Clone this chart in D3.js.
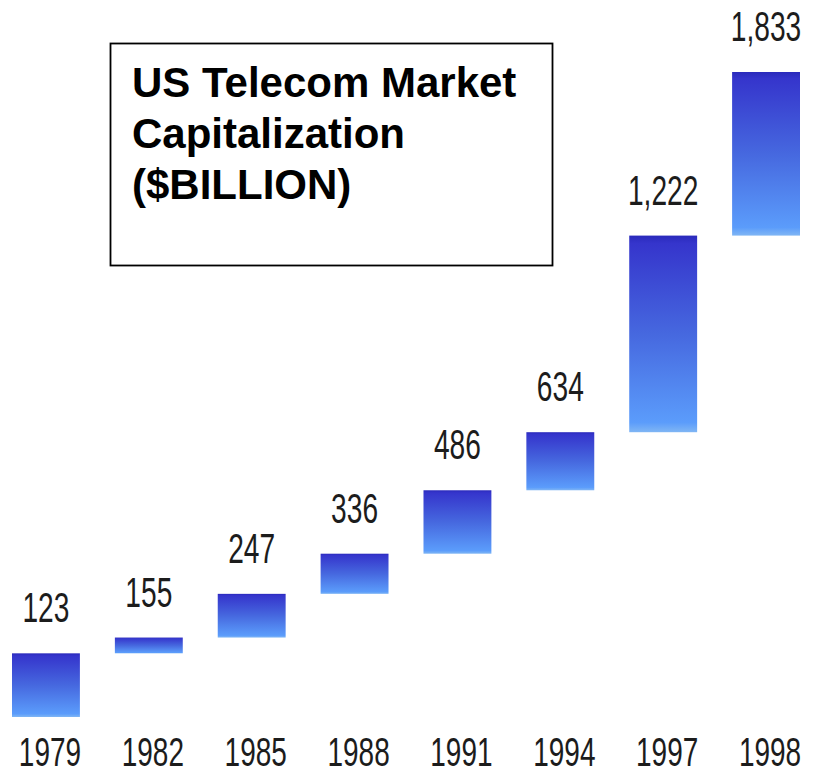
<!DOCTYPE html>
<html>
<head>
<meta charset="utf-8">
<script src="https://cdn.jsdelivr.net/npm/d3@7"></script>
<style>
  html, body { margin: 0; padding: 0; background: #fff; }
  svg { display: block; }
</style>
</head>
<body>
<svg id="chart" width="820" height="774"></svg>
<script>
// Market capitalization of US telecom, $ billion
const years = ["1979", "1982", "1985", "1988", "1991", "1994", "1997", "1998"];
const values = [123, 155, 247, 336, 486, 634, 1222, 1833];
const valueLabels = ["123", "155", "247", "336", "486", "634", "1,222", "1,833"];
const titleLines = ["US Telecom Market", "Capitalization", "($BILLION)"];

const width = 820, height = 774;
const svg = d3.select("#chart");

// Each bar climbs from the previous year's value to its own value
const bars = values.map((v, i) => ({
  year: years[i],
  label: valueLabels[i],
  from: i === 0 ? 0 : values[i - 1],
  to: v
}));

const x = d3.scaleBand()
  .domain(years)
  .range([12, 800])
  .paddingInner(0.34)
  .paddingOuter(0);

const y = d3.scaleSymlog()
  .constant(1500)
  .domain([0, d3.max(values)])
  .range([717, 72]);

// Vertical blue gradient for the bars
const defs = svg.append("defs");
const grad = defs.append("linearGradient")
  .attr("id", "barFill")
  .attr("x1", 0).attr("y1", 0).attr("x2", 0).attr("y2", 1);
grad.append("stop").attr("offset", "0%").attr("stop-color", "#2a2abb");
grad.append("stop").attr("offset", "4%").attr("stop-color", "#3535cc");
grad.append("stop").attr("offset", "50%").attr("stop-color", "#4668df");
grad.append("stop").attr("offset", "95%").attr("stop-color", "#5b9cfb");
grad.append("stop").attr("offset", "100%").attr("stop-color", "#80b6f4");

svg.append("g")
  .selectAll("rect")
  .data(bars)
  .join("rect")
  .attr("x", d => x(d.year))
  .attr("y", d => y(d.to))
  .attr("width", x.bandwidth())
  .attr("height", d => y(d.from) - y(d.to))
  .attr("fill", "url(#barFill)");

// Value labels above each bar (condensed digits)
svg.append("g")
  .selectAll("g")
  .data(bars)
  .join("g")
  .attr("transform", d => `translate(${x(d.year) + x.bandwidth() / 2},${y(d.to) - 31}) scale(0.67,1)`)
  .append("text")
  .attr("text-anchor", "middle")
  .attr("font-family", "'Liberation Sans', Arial, sans-serif")
  .attr("font-size", 42)
  .attr("fill", "#1c1c1c")
  .text(d => d.label);

// Year labels along the bottom
svg.append("g")
  .selectAll("g")
  .data(years)
  .join("g")
  .attr("transform", d => `translate(${x(d) + x.bandwidth() / 2 + 4},766) scale(0.7,1)`)
  .append("text")
  .attr("text-anchor", "middle")
  .attr("font-family", "'Liberation Sans', Arial, sans-serif")
  .attr("font-size", 40)
  .attr("fill", "#1c1c1c")
  .text(d => d);

// Title box
const titleG = svg.append("g");
titleG.append("rect")
  .attr("x", 110.5).attr("y", 43.5)
  .attr("width", 442).attr("height", 222)
  .attr("fill", "#fff")
  .attr("stroke", "#000")
  .attr("stroke-width", 1.8);
titleG.selectAll("text")
  .data(titleLines)
  .join("text")
  .attr("x", 132)
  .attr("y", (d, i) => 97 + i * 51)
  .attr("font-family", "'Liberation Sans', Arial, sans-serif")
  .attr("font-weight", "bold")
  .attr("font-size", 42)
  .attr("fill", "#000")
  .text(d => d);
</script>
</body>
</html>
